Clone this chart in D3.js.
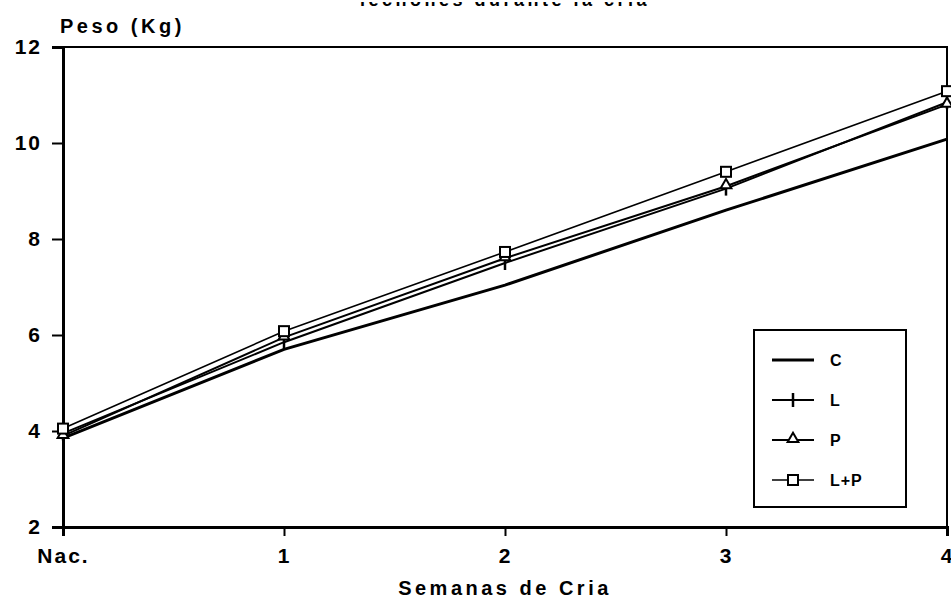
<!DOCTYPE html>
<html>
<head>
  <meta charset="utf-8">
  <script src="https://d3js.org/d3.v7.min.js"></script>
  <style>
    body { margin: 0; background: #fff; }
    text { font-family: "Liberation Sans", Arial, sans-serif; font-weight: bold; fill: #000; }
  </style>
</head>
<body>
<div id="chart"></div>
<script>
  // semanas de cria
  var weeks = ["Nac.", "1", "2", "3", "4"];
  var yTicks = [2, 4, 6, 8, 10, 12];

  // peso (kg) per treatment
  var seriesC = [3.85, 5.7, 7.04, 8.6, 10.08];
  var seriesL = [3.95, 5.85, 7.5, 9.05, 10.85];
  var seriesP = [3.9, 5.95, 7.6, 9.1, 10.8];
  var seriesLP = [4.05, 6.08, 7.73, 9.4, 11.08];

  var series = [
    { name: "C", values: seriesC, mark: "none", width: 3 },
    { name: "L", values: seriesL, mark: "plus", width: 2 },
    { name: "P", values: seriesP, mark: "tri", width: 2 },
    { name: "L+P", values: seriesLP, mark: "square", width: 1.6 }
  ];

  var width = 951, height = 607;
  var margin = { top: 47, right: 4, bottom: 80, left: 63 };

  var svg = d3.select("#chart").append("svg")
    .attr("width", width)
    .attr("height", height);

  var x = d3.scalePoint()
    .domain(weeks)
    .range([margin.left, width - margin.right]);

  var y = d3.scaleLinear()
    .domain([2, 12])
    .range([height - margin.bottom, margin.top]);

  // title, mostly cut off by the top of the scan
  svg.append("text")
    .attr("x", 505)
    .attr("y", 6)
    .attr("text-anchor", "middle")
    .style("font-size", "18px")
    .style("letter-spacing", "3.5px")
    .text("lechones durante la cría");
  svg.append("rect")
    .attr("x", 0).attr("y", 0)
    .attr("width", width).attr("height", 2)
    .attr("fill", "#fff");

  // frame
  svg.append("rect")
    .attr("x", margin.left)
    .attr("y", margin.top)
    .attr("width", width - margin.right - margin.left)
    .attr("height", height - margin.bottom - margin.top)
    .attr("fill", "none")
    .attr("stroke", "#000")
    .attr("stroke-width", 2);

  var yAxis = svg.append("g")
    .attr("transform", "translate(" + margin.left + ",0)")
    .call(d3.axisLeft(y).tickValues(yTicks).tickSize(11).tickPadding(10));

  var xAxis = svg.append("g")
    .attr("transform", "translate(0," + (height - margin.bottom) + ")")
    .call(d3.axisBottom(x).tickSize(9).tickPadding(12));

  [yAxis, xAxis].forEach(function(a) {
    a.select(".domain").attr("stroke-width", 3);
    a.selectAll(".tick line").attr("stroke-width", 2);
    a.selectAll(".tick text")
      .attr("font-family", null)
      .style("font-size", "21px")
      .style("letter-spacing", "2px");
  });

  // axis titles
  svg.append("text")
    .attr("x", 60)
    .attr("y", 33)
    .style("font-size", "20px")
    .style("letter-spacing", "3.5px")
    .text("Peso (Kg)");

  svg.append("text")
    .attr("x", 505)
    .attr("y", 595)
    .attr("text-anchor", "middle")
    .style("font-size", "20px")
    .style("letter-spacing", "3.5px")
    .text("Semanas de Cria");

  var line = d3.line()
    .x(function(d, i) { return x(weeks[i]); })
    .y(function(d) { return y(d); });

  function drawMark(g, type, cx, cy) {
    if (type === "plus") {
      g.append("line")
        .attr("x1", cx).attr("x2", cx)
        .attr("y1", cy - 7).attr("y2", cy + 7)
        .attr("stroke", "#000").attr("stroke-width", 2.5);
    } else if (type === "tri") {
      g.append("path")
        .attr("d", d3.symbol().type(d3.symbolTriangle).size(50)())
        .attr("transform", "translate(" + cx + "," + (cy - 1) + ")")
        .attr("fill", "#fff").attr("stroke", "#000").attr("stroke-width", 2);
    } else if (type === "square") {
      g.append("rect")
        .attr("x", cx - 5).attr("y", cy - 5)
        .attr("width", 10).attr("height", 10)
        .attr("fill", "#fff").attr("stroke", "#000").attr("stroke-width", 2);
    }
  }

  series.forEach(function(s) {
    var g = svg.append("g");
    g.append("path")
      .datum(s.values)
      .attr("d", line)
      .attr("fill", "none")
      .attr("stroke", "#000")
      .attr("stroke-width", s.width);
    s.values.forEach(function(v, i) {
      drawMark(g, s.mark, x(weeks[i]), y(v));
    });
  });

  // legend
  var lx = 754, ly = 330;
  var legend = svg.append("g").attr("transform", "translate(" + lx + "," + ly + ")");
  legend.append("rect")
    .attr("width", 152)
    .attr("height", 177)
    .attr("fill", "#fff")
    .attr("stroke", "#000")
    .attr("stroke-width", 2);

  series.forEach(function(s, i) {
    var yy = 30 + i * 40;
    legend.append("line")
      .attr("x1", 18).attr("x2", 60)
      .attr("y1", yy).attr("y2", yy)
      .attr("stroke", "#000")
      .attr("stroke-width", s.width);
    drawMark(legend, s.mark, 39, yy);
    legend.append("text")
      .attr("x", 76)
      .attr("y", yy + 6)
      .style("font-size", "16px")
      .style("letter-spacing", "1px")
      .text(s.name);
  });
</script>
</body>
</html>
